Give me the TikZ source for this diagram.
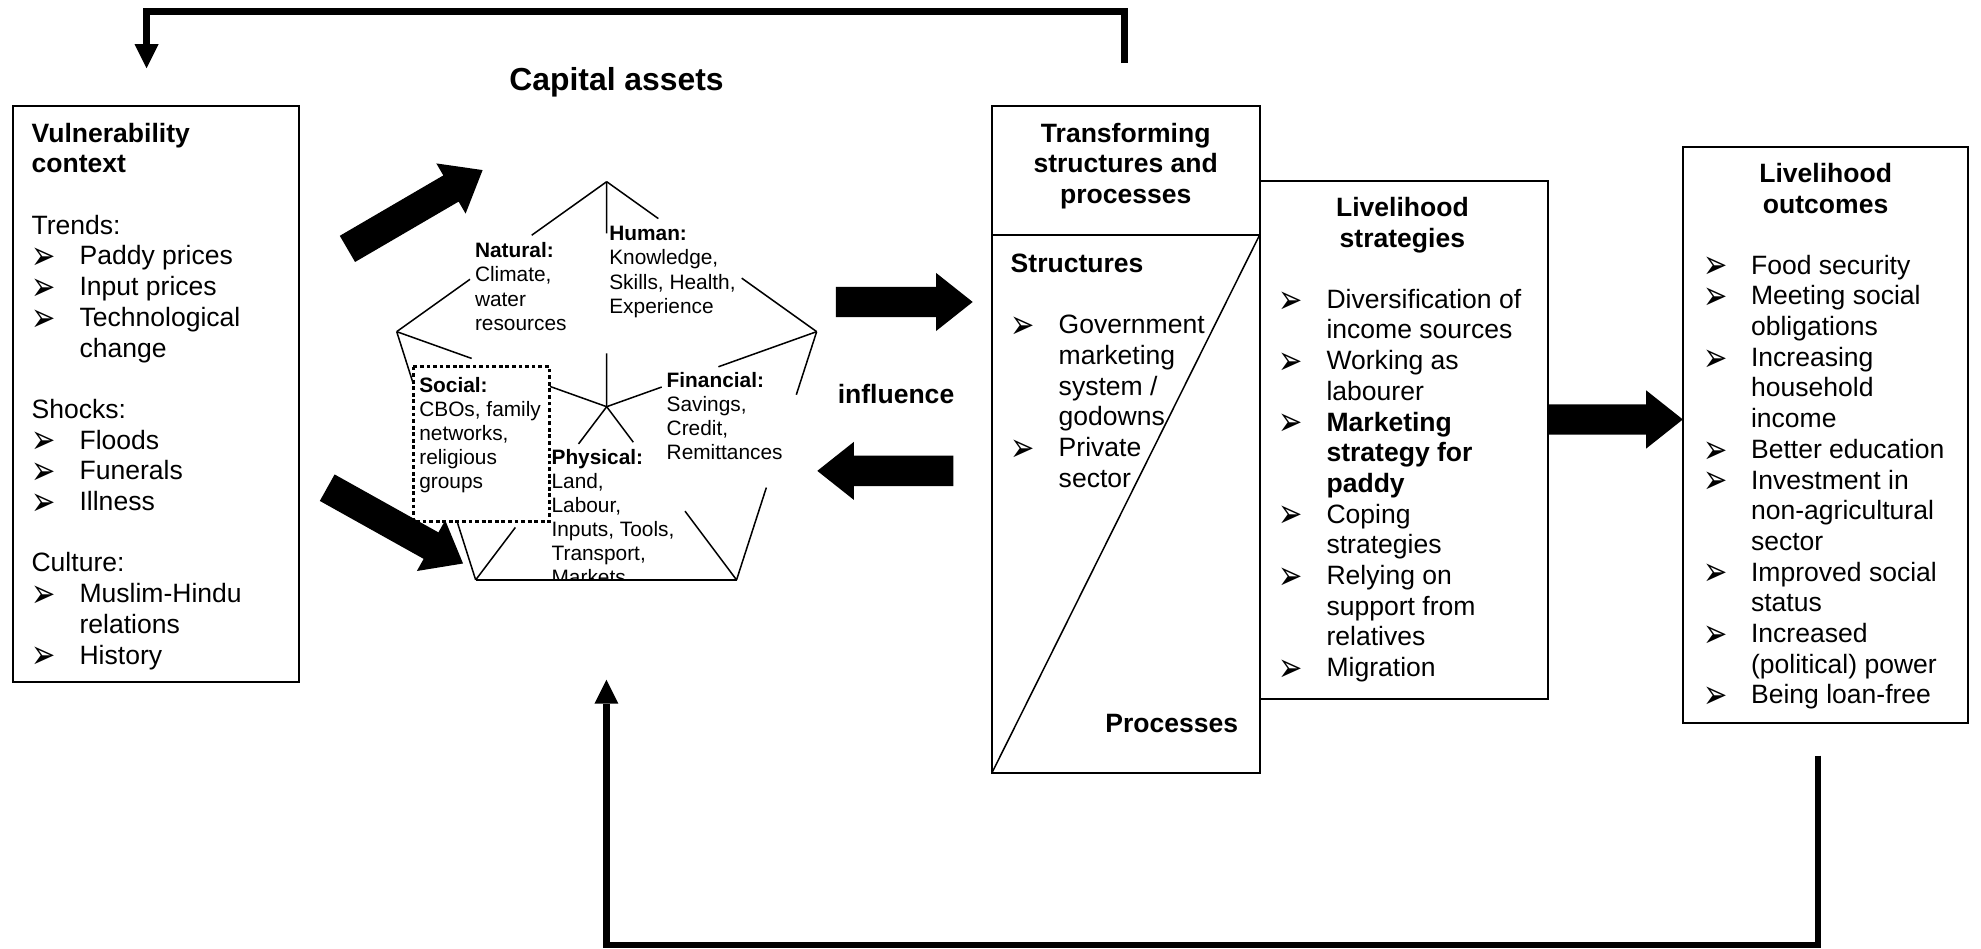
\documentclass[tikz,border=0pt]{standalone}
\usepackage{fontspec}
\usepackage{graphicx}
\setmainfont{Liberation Sans}
\newfontfamily\dejavu{DejaVu Sans}
\usetikzlibrary{calc,arrows.meta}

\newcommand{\lbul}{\makebox[19pt][l]{\smash{\raisebox{-1.9pt}{\scalebox{1.15}[1.6]{\dejavu\fontsize{10}{10}\selectfont ➢}}}}}
\newcommand{\lind}{\hspace*{19pt}}
% block arrow: #1 tail, #2 tip, #3 name prefix
\newcommand{\blockarrow}[3]{%
  \coordinate (#3n) at ($(#2)!14.5pt!(#1)$);
  \fill[black] ($(#1)!6pt!90:(#2)$) -- ($(#3n)!6pt!90:(#2)$) -- ($(#3n)!11.5pt!90:(#2)$)
    -- (#2) -- ($(#3n)!11.5pt!-90:(#2)$) -- ($(#3n)!6pt!-90:(#2)$) -- ($(#1)!6pt!-90:(#2)$) -- cycle;}

\tikzset{
  box/.style={draw, line width=0.8pt, inner sep=0pt, outer sep=0pt},
  txt/.style={inner sep=0pt, outer sep=0pt, align=left, font=\fontsize{10.5}{12.15}\selectfont},
  ttl/.style={inner sep=0pt, outer sep=0pt, align=center, font=\fontsize{10.5}{12.15}\selectfont\bfseries},
  smalltxt/.style={inner sep=0pt, outer sep=0pt, align=left, font=\fontsize{8.25}{9.55}\selectfont},
  pent/.style={line width=0.6pt},
  fbline/.style={line width=2.7pt, miter limit=10, -{Triangle[width=9.5pt,length=9.5pt,line width=0pt]}},
  dotbox/.style={line width=1.3pt, dash pattern=on 1.5pt off 1.1pt},
}

\begin{document}
\begin{tikzpicture}[x=0.5pt,y=-0.5pt]
\fill[white] (0,0) rectangle (1568,751);
\useasboundingbox (0,0) rectangle (1568,751);

% ---------- boxes ----------
\node[box, minimum width=113.5pt, minimum height=228pt] (vuln) at (123.5,312) {};
\node[box, minimum width=106pt, minimum height=264pt] (tsp) at (891,348) {};
\node[box, minimum width=114pt, minimum height=205pt] (strat) at (1111,348) {};
\node[box, minimum width=113pt, minimum height=228pt] (outc) at (1445,344) {};

\coordinate (divL) at (785,186);
\coordinate (divR) at (997,186);
\draw[line width=0.8pt] (divL) -- (divR);
\draw[pent] (divR) -- (tsp.south west);

% ---------- title ----------
\node[inner sep=0pt, font=\fontsize{12.6}{14}\selectfont\bfseries, anchor=base] (captitle) at (488,72) {Capital assets};

% ---------- vulnerability (anchored at the baseline of the last line) ----------
\node[txt, anchor=base west] (vulntext) at (25,525.6) {\textbf{Vulnerability}\\\textbf{context}\\[12.15pt]
Trends:\\
\lbul Paddy prices\\
\lbul Input prices\\
\lbul Technological\\
\lind change\\[12.15pt]
Shocks:\\
\lbul Floods\\
\lbul Funerals\\
\lbul Illness\\[12.15pt]
Culture:\\
\lbul Muslim-Hindu\\
\lind relations\\
\lbul History};

% ---------- transforming structures ----------
\node[ttl, anchor=base] (tsptitle) at (891,161.1) {Transforming\\structures and\\processes};
\node[txt, anchor=base west] (structs) at (800,385.6) {\textbf{Structures}\\[12.15pt]
\lbul Government\\
\lind marketing\\
\lind system /\\
\lind godowns\\
\lbul Private\\
\lind sector};
\node[txt, anchor=base east] (procs) at (980,579.5) {\textbf{Processes}};

% ---------- livelihood strategies ----------
\node[ttl, anchor=base] (strattitle) at (1110,195.8) {Livelihood\\strategies};
\node[txt, anchor=base west] (stratlist) at (1012,535.6) {\lbul Diversification of\\
\lind income sources\\
\lbul Working as\\
\lind labourer\\
\lbul \textbf{Marketing}\\
\lind \textbf{strategy for}\\
\lind \textbf{paddy}\\
\lbul Coping\\
\lind strategies\\
\lbul Relying on\\
\lind support from\\
\lind relatives\\
\lbul Migration};

% ---------- livelihood outcomes ----------
\node[ttl, anchor=base] (outctitle) at (1445,168.8) {Livelihood\\outcomes};
\node[txt, anchor=base west] (outclist) at (1348,557.2) {\lbul Food security\\
\lbul Meeting social\\
\lind obligations\\
\lbul Increasing\\
\lind household\\
\lind income\\
\lbul Better education\\
\lbul Investment in\\
\lind non-agricultural\\
\lind sector\\
\lbul Improved social\\
\lind status\\
\lbul Increased\\
\lind (political) power\\
\lbul Being loan-free};

% ---------- pentagon of capital assets ----------
\coordinate (apex) at (480.2,143.8);
\coordinate (lv) at (314,262.5);
\coordinate (rv) at (646.4,262.5);
\coordinate (blv) at (376.5,459);
\coordinate (brv) at (583,459);
\coordinate (ctr) at (480.2,321.9);

\draw[pent] (apex) -- ($(apex)!0.357!(lv)$);
\draw[pent] ($(apex)!0.651!(lv)$) -- (lv);
\draw[pent] (apex) -- ($(apex)!0.246!(rv)$);
\draw[pent] ($(apex)!0.643!(rv)$) -- (rv);
\draw[pent] (apex) -- ($(apex)!0.23!(ctr)$);
\draw[pent] (ctr) -- ($(ctr)!0.237!(apex)$);
\draw[pent] (lv) -- ($(lv)!0.357!(ctr)$);
\draw[pent] ($(lv)!0.73!(ctr)$) -- (ctr);
\draw[pent] (ctr) -- ($(ctr)!0.262!(rv)$);
\draw[pent] ($(ctr)!0.532!(rv)$) -- (rv);
\draw[pent] (ctr) -- ($(ctr)!0.215!(blv)$);
\draw[pent] ($(ctr)!0.697!(blv)$) -- (blv);
\draw[pent] (ctr) -- ($(ctr)!0.205!(brv)$);
\draw[pent] ($(ctr)!0.603!(brv)$) -- (brv);
\draw[pent] (lv) -- ($(lv)!0.207!(blv)$);
\draw[pent] ($(lv)!0.768!(blv)$) -- (blv);
\draw[pent] (rv) -- ($(rv)!0.254!(brv)$);
\draw[pent] ($(rv)!0.628!(brv)$) -- (brv);
\draw[pent] (blv) -- (brv);

\draw[dotbox] (327.2,290.2) rectangle (434.8,412.9);

\node[smalltxt, anchor=base west] (natural) at (376,261.3) {\textbf{Natural:}\\Climate,\\water\\resources};
\node[smalltxt, anchor=base west] (human) at (482.3,247.9) {\textbf{Human:}\\Knowledge,\\Skills, Health,\\Experience};
\node[smalltxt, anchor=base west] (social) at (331.9,387) {\textbf{Social:}\\CBOs, family\\networks,\\religious\\groups};
\node[smalltxt, anchor=base west] (financial) at (527.7,364) {\textbf{Financial:}\\Savings,\\Credit,\\Remittances};
\begin{scope}
\clip (420,340) rectangle (600,459);
\node[smalltxt, anchor=base west] (physical) at (436.6,462.9) {\textbf{Physical:}\\Land,\\Labour,\\Inputs, Tools,\\Transport,\\Markets};
\end{scope}

% ---------- block arrows ----------
\coordinate (a1t) at (275,197);   \coordinate (a1h) at (382,134.6);
\coordinate (a2t) at (259,386);   \coordinate (a2h) at (366.5,446);
\coordinate (a3t) at (661.7,239); \coordinate (a3h) at (769.9,239);
\coordinate (a4t) at (754.6,372.7); \coordinate (a4h) at (646.9,372.7);
\coordinate (a5t) at (1225,332);  \coordinate (a5h) at (1332,332);
\blockarrow{a1t}{a1h}{a1}
\blockarrow{a2t}{a2h}{a2}
\blockarrow{a3t}{a3h}{a3}
\blockarrow{a4t}{a4h}{a4}
\blockarrow{a5t}{a5h}{a5}

\node[inner sep=0pt, font=\fontsize{10.5}{12.2}\selectfont\bfseries, anchor=base] (influence) at (709.2,319.5) {influence};

% ---------- feedback arrows ----------
\coordinate (fbA0) at (890,50);
\coordinate (fbA1) at (890,9.3);
\coordinate (fbA2) at (116,9.3);
\coordinate (fbA3) at (116,54);
\draw[fbline] (fbA0) -- (fbA1) -- (fbA2) -- (fbA3);

\coordinate (fbB0) at (1439,598);
\coordinate (fbB1) at (1439,748);
\coordinate (fbB2) at (480,748);
\coordinate (fbB3) at (480,538);
\draw[fbline] (fbB0) -- (fbB1) -- (fbB2) -- (fbB3);
\end{tikzpicture}
\end{document}
